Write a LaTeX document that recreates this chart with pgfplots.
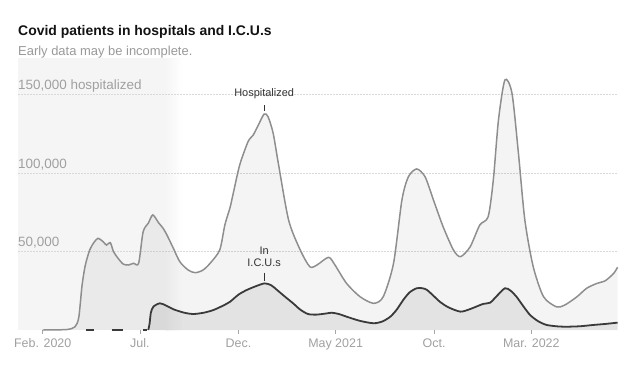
\documentclass[border=0pt]{standalone}
\usepackage{pgfplots}
\pgfplotsset{compat=1.18}
\usepackage{pgfplotstable}
\usepackage{fontspec}
\setmainfont{Liberation Sans}
\definecolor{titlec}{HTML}{121212}
\definecolor{subc}{HTML}{999999}
\definecolor{tickc}{HTML}{A0A0A0}
\definecolor{hospline}{HTML}{8E8E8E}
\definecolor{iculine}{HTML}{3A3A3A}
\definecolor{shadec}{HTML}{F5F5F5}
\definecolor{annc}{HTML}{333333}

\pgfplotstableread{
day val
0 0
37 300
50 2000
56 8000
61 28000
66 41000
73 51000
80 56000
86 58400
94 56200
99 54100
105 55600
110 49900
117 45700
125 42000
133 41400
141 42500
149 42500
156 62600
164 68000
171 73300
180 68300
187 64800
193 60500
203 52000
213 43500
226 38200
237 36500
249 38200
260 42500
275 51000
283 67000
291 78000
296 87100
306 105100
319 120000
327 124200
335 130600
344 137600
350 135900
358 125300
366 106200
382 70000
400 51000
415 40300
426 41400
444 46300
454 41400
472 29700
493 21200
514 17000
529 21200
545 42500
558 82800
568 97600
581 102600
594 97600
607 82800
622 65800
638 51000
649 46700
664 53000
679 66900
692 72200
700 95600
708 133800
718 159300
729 150800
739 112600
749 70000
762 40300
778 21200
798 14800
811 15900
830 21200
845 26600
861 29700
874 31400
887 36100
893 40000
}\hosp

\pgfplotstableread{
day val
164 0
166 4000
168 11000
172 14900
182 17000
192 15500
203 13200
220 11000
234 10200
250 11000
265 12700
280 15500
291 18000
304 22500
317 25500
333 28200
345 29700
355 28500
364 25500
377 21000
389 17000
400 13000
412 10200
425 9800
440 10500
449 11000
460 10200
472 8500
493 5800
514 4300
528 5500
540 8500
550 13000
560 19100
570 24000
581 26600
590 26600
597 25500
607 21800
617 18000
630 14500
649 11700
665 13500
684 16600
695 17400
705 21500
718 26600
727 25000
736 21200
746 15500
757 9600
770 5500
783 3200
800 2300
814 2100
835 2400
855 3200
875 3900
893 4700
}\icu

\begin{document}
\begin{tikzpicture}[x=1bp,y=1bp]
\useasboundingbox (0,0) rectangle (643,377);
\fill[shadec] (18,47) rectangle (165,319);
\shade[left color=shadec, right color=white] (165,47) rectangle (182,319);
\node[anchor=base west, inner sep=0, font=\fontsize{14}{16}\selectfont\bfseries, text=titlec] at (18,342) {Covid patients in hospitals and I.C.U.s};
\node[anchor=base west, inner sep=0, font=\fontsize{13}{15}\selectfont, text=subc] at (18,322) {Early data may be incomplete.};
\begin{axis}[
  at={(18bp,47bp)}, anchor=south west,
  scale only axis, width=600bp, height=270bp,
  xmin=-38.4, xmax=893.7, ymin=0, ymax=172000,
  axis x line*=bottom, axis y line*=left,
  x axis line style={draw=none}, y axis line style={draw=none},
  ytick={50000,100000,150000},
  yticklabels={{50,000},{100,000},{150,000 hospitalized}},
  scaled y ticks=false,
  ytick style={draw=none},
  yticklabel style={anchor=base west, inner sep=0pt, xshift=3.5bp, yshift=5bp, font=\fontsize{13.5}{15}\selectfont, text=tickc},
  ymajorgrids,
  major grid style={gray!30, line width=0.5pt, dash pattern=on 1.5bp off 1.5bp},
  xtick={0,151,304,455,608,759},
  xticklabels={Feb. 2020,Jul.,Dec.,May 2021,Oct.,Mar. 2022},
  xticklabel style={anchor=base, inner sep=0pt, yshift=-13.5bp, font=\fontsize{12.5}{14}\selectfont, text=tickc},
  tick align=outside, major tick length=3.5bp,
  xtick style={gray!70, line width=0.6pt},
  clip=false,
]
\addplot[draw=none, fill=black, fill opacity=0.045, smooth, tension=0.45] table[x=day,y=val] {\hosp} \closedcycle;
\addplot[hospline, line width=1.5pt, smooth, tension=0.45] table[x=day,y=val] {\hosp};
\addplot[draw=none, fill=black, fill opacity=0.07, smooth, tension=0.45] table[x=day,y=val] {\icu} \closedcycle;
\addplot[iculine, line width=1.8pt, smooth, tension=0.45] table[x=day,y=val] {\icu};
\addplot[iculine, line width=1.8pt] coordinates {(67,0) (80,0)};
\addplot[iculine, line width=1.8pt] coordinates {(107,0) (125,0)};
\addplot[iculine, line width=1.8pt] coordinates {(156,0) (162,0)};
\node[anchor=base, inner sep=0pt, font=\fontsize{11}{12}\selectfont, text=annc] at (axis cs:344,148600) {Hospitalized};
\draw[annc, line width=0.6pt] (axis cs:344,143300) -- (axis cs:344,139500);
\node[anchor=base, inner sep=0pt, font=\fontsize{11}{12}\selectfont, text=annc] at (axis cs:344,48200) {In};
\node[anchor=base, inner sep=0pt, font=\fontsize{11}{12}\selectfont, text=annc] at (axis cs:344,40300) {I.C.U.s};
\draw[annc, line width=0.6pt] (axis cs:344,36500) -- (axis cs:344,31300);
\end{axis}
\end{tikzpicture}
\end{document}
